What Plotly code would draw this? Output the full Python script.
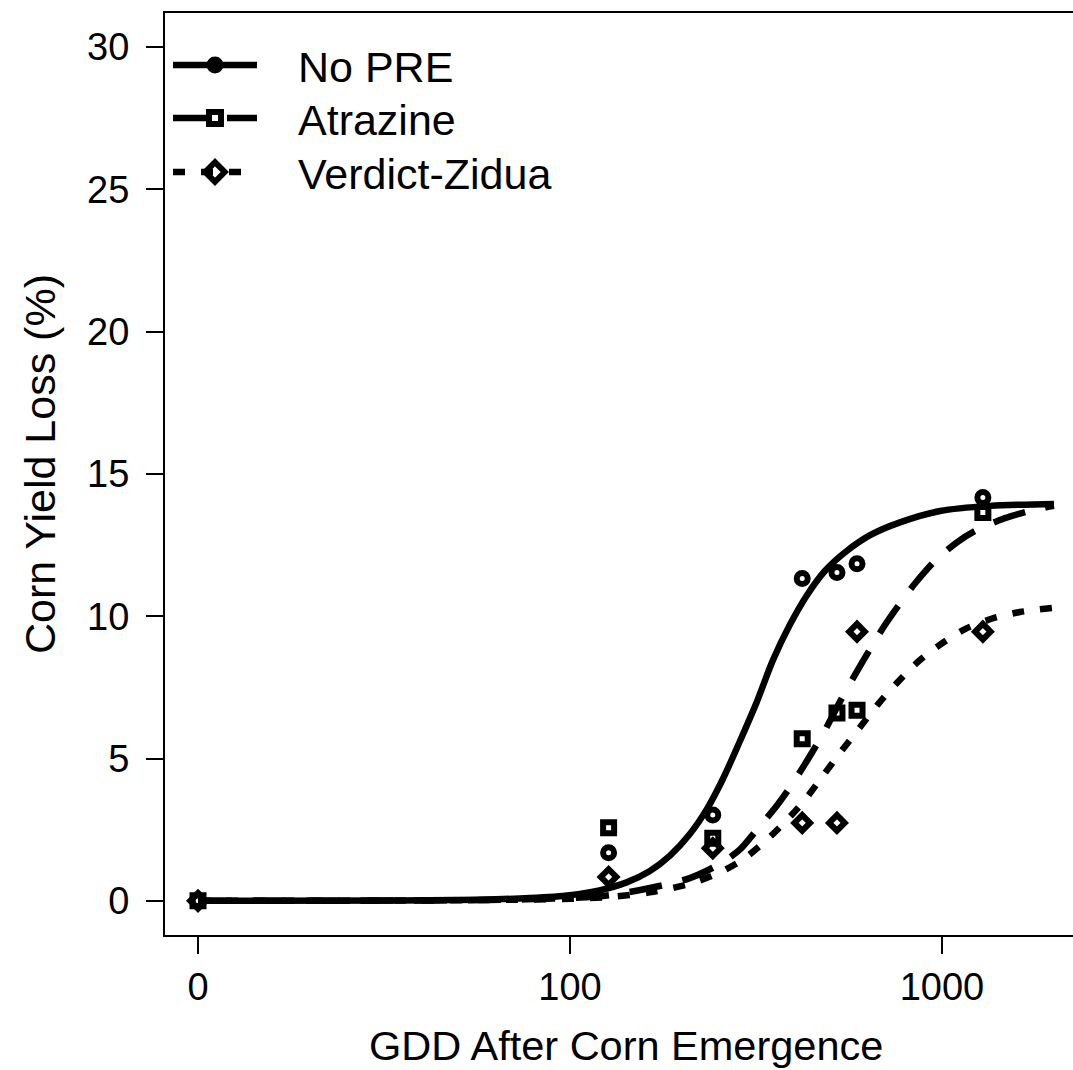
import plotly.graph_objects as go

# ---------------- data ----------------
series_names = ["No PRE", "Atrazine", "Verdict-Zidua"]

gdd = [0, 127, 242, 421, 522, 591, 1288]
no_pre = [0, 1.69, 3.02, 11.33, 11.54, 11.85, 14.17]
atrazine = [0, 2.57, 2.2, 5.7, 6.6, 6.7, 13.65]
verdict = [0, 0.84, 1.85, 2.74, 2.74, 9.46, 9.46]

# fitted curves
curve_gdd_nopre = [0, 35, 57, 78, 100, 120, 142, 164, 186, 210, 234, 258, 286, 318, 351,
                   390, 434, 485, 549, 641, 771, 988, 1346, 2000]
curve_nopre = [0, 0.01, 0.04, 0.1, 0.2, 0.37, 0.65, 1.05, 1.6, 2.35, 3.25, 4.3, 5.6, 7.0,
               8.45, 9.7, 10.75, 11.6, 12.25, 12.85, 13.3, 13.7, 13.88, 13.95]

curve_gdd_atra = [0, 35, 60, 100, 128, 164, 210, 253, 286, 318, 360, 398, 442, 485, 532,
                  584, 641, 703, 771, 846, 958, 1097, 1227, 1477, 1778, 2000]
curve_atra = [0, 0.01, 0.03, 0.1, 0.2, 0.45, 0.8, 1.3, 1.8, 2.5, 3.35, 4.15, 5.1, 6.0, 7.0,
              7.95, 8.85, 9.7, 10.45, 11.15, 11.95, 12.6, 13.0, 13.45, 13.75, 13.88]

curve_gdd_verd = [0, 35, 60, 100, 128, 164, 210, 253, 295, 345, 390, 431, 479, 532, 602,
                  677, 762, 862, 976, 1153, 1388, 1621, 2000]
curve_verd = [0, 0.01, 0.03, 0.07, 0.14, 0.3, 0.6, 1.0, 1.5, 2.25, 2.95, 3.6, 4.4, 5.2, 6.1,
              6.95, 7.7, 8.4, 8.95, 9.55, 9.95, 10.15, 10.3]

x_tick_vals = [0, 100, 1000]
x_tick_text = ["0", "100", "1000"]
y_tick_vals = [0, 5, 10, 15, 20, 25, 30]

ZERO_AT = 10  # where the 0-GDD dose is drawn on the log axis


def pos(values):
    return [ZERO_AT if v == 0 else v for v in values]


# ---------------- layout geometry (pixels) ----------------
W, H = 1073, 1070
L, R, T, B = 165, 0, 13, 135
PW = W - L - R
PH = H - T - B


def px_x(px):
    return (px - L) / PW


def px_y(py):
    return (H - B - py) / PH


FONT = "Arial, 'Liberation Sans', sans-serif"
LW = 6.5
DASH_ATRA = "33px,21px"
DASH_VERD = "12px,16px"

fig = go.Figure()

styles = [
    dict(name=series_names[0], cx=curve_gdd_nopre, cy=curve_nopre, px=gdd, py=no_pre,
         dash="solid", sym="circle-open", size=11),
    dict(name=series_names[1], cx=curve_gdd_atra, cy=curve_atra, px=gdd, py=atrazine,
         dash=DASH_ATRA, sym="square-open", size=11),
    dict(name=series_names[2], cx=curve_gdd_verd, cy=curve_verd, px=gdd, py=verdict,
         dash=DASH_VERD, sym="diamond-open", size=12),
]

for s in styles:
    fig.add_trace(go.Scatter(
        x=pos(s["cx"]), y=s["cy"], mode="lines", line_shape="spline",
        line=dict(color="black", width=LW, dash=s["dash"], smoothing=0.8),
        showlegend=False, hoverinfo="skip"))
for s in styles:
    fig.add_trace(go.Scatter(
        x=pos(s["px"]), y=s["py"], mode="markers",
        marker=dict(symbol=s["sym"], size=s["size"], color="black",
                    line=dict(color="black", width=6)),
        showlegend=False, name=s["name"]))

# ---------------- hand-built legend (top-left, R style) ----------------
leg_rows = [65, 118, 172]
leg_x0, leg_x1, leg_xm, leg_tx = 173, 257, 215, 296
leg_markers = [dict(symbol="circle", size=17, lw=0),
               dict(symbol="square-open", size=12, lw=6),
               dict(symbol="diamond-open", size=15, lw=6)]
for s, yr, mk in zip(styles, leg_rows, leg_markers):
    fig.add_trace(go.Scatter(
        x=[px_x(leg_x0), px_x(leg_x1)], y=[px_y(yr), px_y(yr)], mode="lines",
        line=dict(color="black", width=LW, dash=s["dash"]),
        xaxis="x2", yaxis="y2", showlegend=False, hoverinfo="skip"))
    fig.add_trace(go.Scatter(
        x=[px_x(leg_xm)], y=[px_y(yr)], mode="markers",
        marker=dict(symbol=mk["symbol"], size=mk["size"], color="black",
                    line=dict(color="black", width=mk["lw"])),
        xaxis="x2", yaxis="y2", showlegend=False, hoverinfo="skip"))
    fig.add_annotation(x=px_x(leg_tx), y=px_y(yr + 2), xref="paper", yref="paper",
                       text=s["name"], showarrow=False, xanchor="left", yanchor="middle",
                       font=dict(family=FONT, size=43, color="black"))

# axis titles
fig.add_annotation(x=px_x(626), y=px_y(1045), xref="paper", yref="paper",
                   text="GDD After Corn Emergence", showarrow=False,
                   xanchor="center", yanchor="middle",
                   font=dict(family=FONT, size=41.5, color="black"))
fig.add_annotation(x=px_x(40), y=px_y(464), xref="paper", yref="paper",
                   text="Corn Yield Loss (%)", showarrow=False, textangle=-90,
                   xanchor="center", yanchor="middle",
                   font=dict(family=FONT, size=43, color="black"))

fig.update_layout(
    width=W, height=H, margin=dict(l=L, r=R, t=T, b=B, pad=0),
    plot_bgcolor="white", paper_bgcolor="white", showlegend=False,
    font=dict(family=FONT, color="black"),
    xaxis=dict(type="log", range=[0.9113, 3.3522],
               tickvals=pos(x_tick_vals), ticktext=x_tick_text,
               ticks="outside", ticklen=17, tickwidth=2, tickcolor="black",
               showline=True, linewidth=2, linecolor="black", mirror=True,
               showgrid=False, zeroline=False,
               tickfont=dict(family=FONT, size=38, color="black")),
    yaxis=dict(range=[-1.2, 31.2], tickvals=y_tick_vals,
               ticks="outside", ticklen=17, tickwidth=2, tickcolor="black",
               showline=True, linewidth=2, linecolor="black", mirror=False,
               showgrid=False, zeroline=False, ticklabelstandoff=9,
               tickfont=dict(family=FONT, size=38, color="black")),
    xaxis2=dict(overlaying="x", range=[0, 1], visible=False, anchor="y2"),
    yaxis2=dict(overlaying="y", range=[0, 1], visible=False, anchor="x2"),
)

fig.write_html("out.html")
